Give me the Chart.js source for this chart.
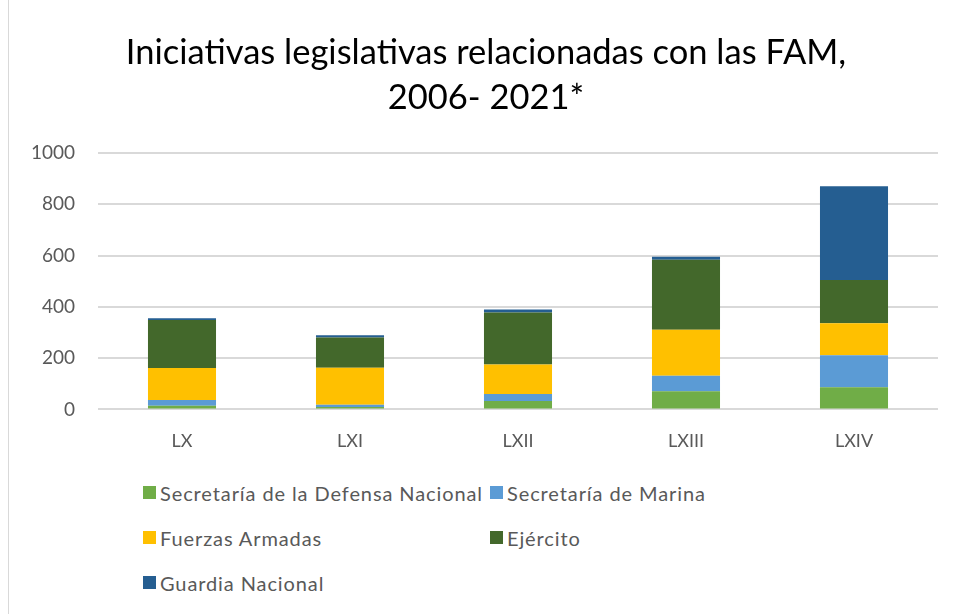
<!DOCTYPE html>
<html>
<head>
<meta charset="utf-8">
<script src="https://cdn.jsdelivr.net/npm/chart.js@4"></script>
<style>
  html, body { margin: 0; padding: 0; background: #fff; }
  #wrap { position: relative; width: 956px; height: 614px; overflow: hidden; }
  #frame { position: absolute; left: 8px; top: 0; width: 1px; height: 614px; background: #d9d9d9; }
  #chartBox { position: absolute; left: 0; top: 0; width: 956px; height: 465px; }
  #legend {
    position: absolute; left: 143px; top: 470px;
    display: grid; grid-template-columns: 347px 300px; row-gap: 0;
    font-family: Lato, "Open Sans", sans-serif; font-size: 20px; letter-spacing: 0.9px; color: #595959;
  }
  #legend .item { display: flex; align-items: center; height: 45px; white-space: nowrap; }
  #legend .box { width: 13px; height: 13px; margin-right: 4px; flex: none; }
</style>
</head>
<body>
<div id="wrap">
  <div id="frame"></div>
  <div id="chartBox"><canvas id="chart"></canvas></div>
  <div id="legend"></div>
</div>
<script>
const legislaturas = ["LX", "LXI", "LXII", "LXIII", "LXIV"];

const sedena = [14, 9, 33, 71, 86];
const semar = [23, 9, 27, 60, 125];
const fuerzasArmadas = [124, 144, 115, 180, 125];
const ejercito = [188, 118, 203, 273, 169];
const guardiaNacional = [7, 9, 12, 11, 365];

const yTicks = [0, 200, 400, 600, 800, 1000];

const series = [
  { label: "Secretaría de la Defensa Nacional", data: sedena, color: "#70AD47" },
  { label: "Secretaría de Marina", data: semar, color: "#5B9BD5" },
  { label: "Fuerzas Armadas", data: fuerzasArmadas, color: "#FFC000" },
  { label: "Ejército", data: ejercito, color: "#43682B" },
  { label: "Guardia Nacional", data: guardiaNacional, color: "#255E91" },
];

const fontFamily = 'Lato, "Open Sans", sans-serif';

const chart = new Chart(document.getElementById("chart"), {
  type: "bar",
  data: {
    labels: legislaturas,
    datasets: series.map((s) => ({
      label: s.label,
      data: s.data,
      backgroundColor: s.color,
      borderWidth: 0,
      categoryPercentage: 1,
      barPercentage: 0.405,
    })),
  },
  options: {
    responsive: true,
    maintainAspectRatio: false,
    animation: false,
    layout: { padding: { left: 16, right: 0, top: 0, bottom: 0 } },
    scales: {
      x: {
        stacked: true,
        grid: { display: false },
        border: { display: false },
        ticks: {
          color: "#595959",
          font: { family: fontFamily, size: 18 },
          padding: 13,
        },
      },
      y: {
        stacked: true,
        min: 0,
        max: 1000,
        afterBuildTicks: (scale) => {
          scale.ticks = yTicks.map((v) => ({ value: v }));
        },
        afterFit: (scale) => {
          scale.width = 82;
        },
        grid: { color: "#d9d9d9", lineWidth: 2, drawTicks: false },
        border: { display: false },
        ticks: {
          color: "#595959",
          font: { family: fontFamily, size: 19 },
          padding: 23,
          callback: (v) => String(v),
        },
      },
      // empty axis on the right, only keeps the plot off the edge
      spacer: {
        type: "linear",
        position: "right",
        display: true,
        grid: { display: false },
        border: { display: false },
        ticks: { display: false },
        afterFit: (scale) => {
          scale.width = 18;
        },
      },
    },
    plugins: {
      legend: { display: false },
      tooltip: { enabled: false },
      title: {
        display: true,
        text: ["Iniciativas legislativas relacionadas con las FAM,", "2006- 2021*"],
        color: "#000",
        font: { family: fontFamily, size: 34.5, weight: "normal", lineHeight: 1.29 },
        padding: { top: 31, bottom: 33 },
      },
    },
  },
});

// legend in two columns like the original
const legendEl = document.getElementById("legend");
chart.data.datasets.forEach((ds) => {
  const item = document.createElement("div");
  item.className = "item";
  const box = document.createElement("span");
  box.className = "box";
  box.style.background = ds.backgroundColor;
  const txt = document.createElement("span");
  txt.textContent = ds.label;
  item.appendChild(box);
  item.appendChild(txt);
  legendEl.appendChild(item);
});
</script>
</body>
</html>
